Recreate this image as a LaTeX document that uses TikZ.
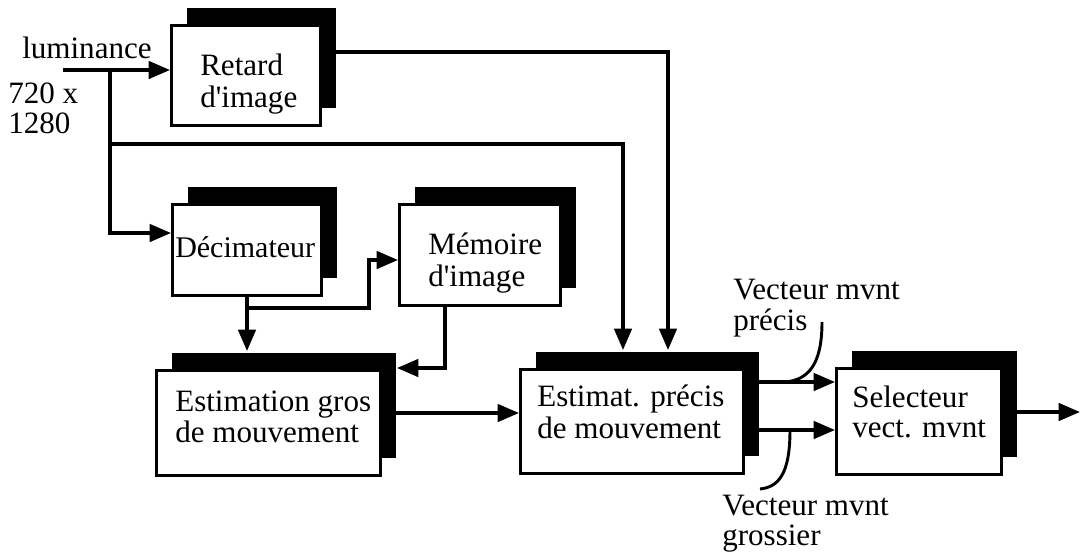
\documentclass[tikz,border=0pt]{standalone}
\usepackage{fontspec}
\setmainfont{Liberation Serif}
\usetikzlibrary{arrows.meta,shadows}
\begin{document}
\begin{tikzpicture}[x=0.75pt,y=-0.75pt,
  box/.style={draw, fill=white, line width=2.2pt, inner sep=0pt,
    drop shadow={shadow xshift=11.25pt, shadow yshift=13.5pt, opacity=1, fill=black}},
  txt/.style={inner sep=0pt, align=left, anchor=west, font=\fontsize{23.3}{22.5}\selectfont},
  conn/.style={line width=2.6pt},
  arr/.style={conn, -{Triangle[length=16pt,width=13pt]}},
  lead/.style={line width=2.2pt}
]
\useasboundingbox (0,0) rectangle (1082,557);

% boxes
\node[box, minimum width=149*0.75pt, minimum height=100*0.75pt] (ret) at (246,75.5) {};
\node[box, minimum width=149*0.75pt, minimum height=91*0.75pt] (dec) at (247,250) {};
\node[box, minimum width=161*0.75pt, minimum height=101*0.75pt] (mem) at (480,255) {};
\node[box, minimum width=224*0.75pt, minimum height=105*0.75pt] (est) at (268.5,423) {};
\node[box, minimum width=223*0.75pt, minimum height=104*0.75pt] (pre) at (632,421.5) {};
\node[box, minimum width=165*0.75pt, minimum height=106*0.75pt] (sel) at (919,421.5) {};

% box texts
\node[txt] (ret-t) at (200,85) {\strut Retard\\\strut d\textquotesingle image};
\node[txt, font=\fontsize{22.5}{22.5}\selectfont] (dec-t) at (175,251) {\strut Décimateur};
\node[txt] (mem-t) at (428,264) {\strut Mémoire\\\strut d\textquotesingle image};
\node[txt] (est-t) at (175,421) {\strut Estimation gros\\\strut de mouvement};
\node[txt] (pre-t) at (537,416) {\strut Estimat. précis\\\strut de mouvement};
\node[txt] (sel-t) at (852,416) {\strut Selecteur\\\strut vect. mvnt};

% outside labels
\node[txt] (lum) at (22,52) {\strut luminance};
\node[txt] (res) at (8,112) {\strut 720 x\\\strut 1280};
\node[txt] (vp) at (733,309) {\strut Vecteur mvnt\\\strut précis};
\node[txt] (vg) at (722,524) {\strut Vecteur mvnt\\\strut grossier};

% shadow corners
\coordinate (preSh) at ([shift={(15,-18)}]pre.north east);
\coordinate (estSh) at ([shift={(15,-18)}]est.north east);

% helper coordinates
\coordinate (lumS) at (63,70);
\coordinate (j1) at (110,70);
\coordinate (d1) at (110,233);
\coordinate (j2) at (110,144);
\coordinate (b1) at (623,144);
\coordinate (b2) at (668,52);
\coordinate (j3) at (247,308);
\coordinate (b3) at (369,308);
\coordinate (m1) at (369,260);
\coordinate (b4) at (445,368);
\coordinate (e1) at (400,413);
\coordinate (p1) at (762,382);
\coordinate (p2) at (762,430);
\coordinate (out) at (1080,412);

% connectors
\draw[arr] (lumS) -- (lumS -| ret.west);
\draw[arr] (j1) -- (d1) -- (d1 -| dec.west);
\draw[arr] (j2) -- (b1) -- (b1 |- preSh);
\draw[arr] (ret.east |- b2) -- (b2) -- (b2 |- preSh);
\draw[arr] (dec.south) -- (dec.south |- estSh);
\draw[arr] (j3) -- (b3) -- (m1) -- (m1 -| mem.west);
\draw[arr] (b4 |- mem.south) -- (b4) -- (b4 -| estSh);
\draw[arr] (e1 -| est.east) -- (e1 -| pre.west);
\draw[arr] (p1 -| pre.east) -- (p1 -| sel.west);
\draw[arr] (p2 -| pre.east) -- (p2 -| sel.west);
\draw[arr] (sel.east |- out) -- (out);

% label leaders
\coordinate (u1) at (822,322);
\coordinate (u2) at (785,382);
\coordinate (g1) at (790,430);
\coordinate (g2) at (760,489);
\draw[lead] (u1) .. controls (822,365) and (808,380) .. (u2);
\draw[lead] (g1) .. controls (790,475) and (778,487) .. (g2);
\end{tikzpicture}
\end{document}
